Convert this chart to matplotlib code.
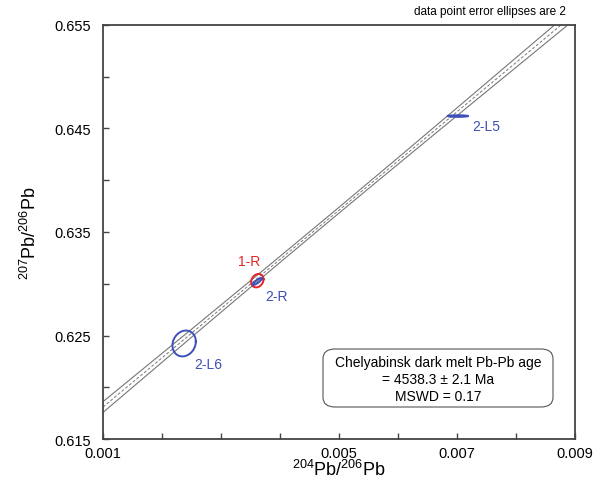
import numpy as np
from matplotlib import pyplot as plt
from matplotlib.patches import FancyBboxPatch

plt.rcParams['font.family'] = ['Liberation Sans', 'DejaVu Sans']
plt.rcParams['mathtext.fontset'] = 'custom'
plt.rcParams['mathtext.rm'] = 'Liberation Sans'
plt.rcParams['mathtext.default'] = 'regular'

# data points: 204Pb/206Pb, 207Pb/206Pb, 2-sigma half widths, error correlation
names = ['2-L6', '1-R', '2-R', '2-L5']
x_vals = [0.002375, 0.003616, 0.003616, 0.00701]
y_vals = [0.62423, 0.63030, 0.63022, 0.64620]
sx_vals = [0.000198, 0.000105, 0.000078, 0.000170]
sy_vals = [0.00125, 0.00065, 0.00034, 0.00008]
rho_vals = [0.15, 0.2, 0.85, 0.0]
colors = ['#3d4fb8', '#e32526', '#3d4fb8', '#3d4fb8']

# isochron fit
iso_x0 = 0.001
iso_y0 = 0.61809
iso_slope = 4.754
env_xc = 0.0048
env_a = 0.00028
env_b = 0.115

fig = plt.figure(figsize=(6.01, 4.81), dpi=100)
ax = fig.add_axes([0.1714, 0.0852, 0.7853, 0.8608])

xx = np.linspace(0.001, 0.009, 200)
yc = iso_y0 + iso_slope * (xx - iso_x0)
hw = np.sqrt(env_a**2 + (env_b * (xx - env_xc))**2)
ax.plot(xx, yc, color='#777777', lw=0.7, ls=(0, (3, 2)))
ax.plot(xx, yc + hw, color='#777777', lw=0.8)
ax.plot(xx, yc - hw, color='#777777', lw=0.8)

t = np.linspace(0, 2 * np.pi, 200)
for x, y, sx, sy, r, c in zip(x_vals, y_vals, sx_vals, sy_vals, rho_vals, colors):
    ex = x + sx * np.cos(t)
    ey = y + sy * (r * np.cos(t) + np.sqrt(1 - r * r) * np.sin(t))
    ax.plot(ex, ey, color=c, lw=1.4)

lab_pos = [(0.00255, 0.6222, 'left'), (0.00347, 0.6322, 'center'),
           (0.00375, 0.6288, 'left'), (0.00726, 0.6452, 'left')]
for n, (lx, ly, ha), c in zip(names, lab_pos, colors):
    ax.text(lx, ly, n, color=c, fontsize=10, ha=ha, va='center')

ax.set_xlim(0.001, 0.009)
ax.set_ylim(0.615, 0.655)
ax.set_xticks(np.arange(0.001, 0.0091, 0.001))
ax.set_xticklabels(['0.001', '', '', '', '0.005', '', '0.007', '', '0.009'])
ax.set_yticks(np.arange(0.615, 0.6551, 0.005))
ax.set_yticklabels(['0.615', '', '0.625', '', '0.635', '', '0.645', '', '0.655'])
ax.tick_params(direction='in', length=4, width=1, color='#444444',
               labelsize=10.5)
ax.tick_params(axis='x', pad=5)
ax.tick_params(axis='y', pad=9)
for s in ax.spines.values():
    s.set_color('#444444')
    s.set_linewidth(1.3)

ax.set_xlabel(r'$^{204}$Pb/$^{206}$Pb', fontsize=13, labelpad=-1)
ax.set_ylabel(r'$^{207}$Pb/$^{206}$Pb', fontsize=13, labelpad=10)

box = FancyBboxPatch((323 / 601, 1 - 408 / 481), 230 / 601, 58 / 481,
                     boxstyle='round,pad=0,rounding_size=0.02',
                     transform=fig.transFigure, fc='white', ec='#555555', lw=0.8)
fig.patches.append(box)
fig.text(438 / 601, 1 - 380 / 481,
         'Chelyabinsk dark melt Pb-Pb age\n= 4538.3 ± 2.1 Ma\nMSWD = 0.17',
         ha='center', va='center', fontsize=10, linespacing=1.25)

fig.text(490 / 601, 1 - 12 / 481, 'data point error ellipses are 2',
         ha='center', va='center', fontsize=8.5)

plt.savefig('out.png', dpi=100)
